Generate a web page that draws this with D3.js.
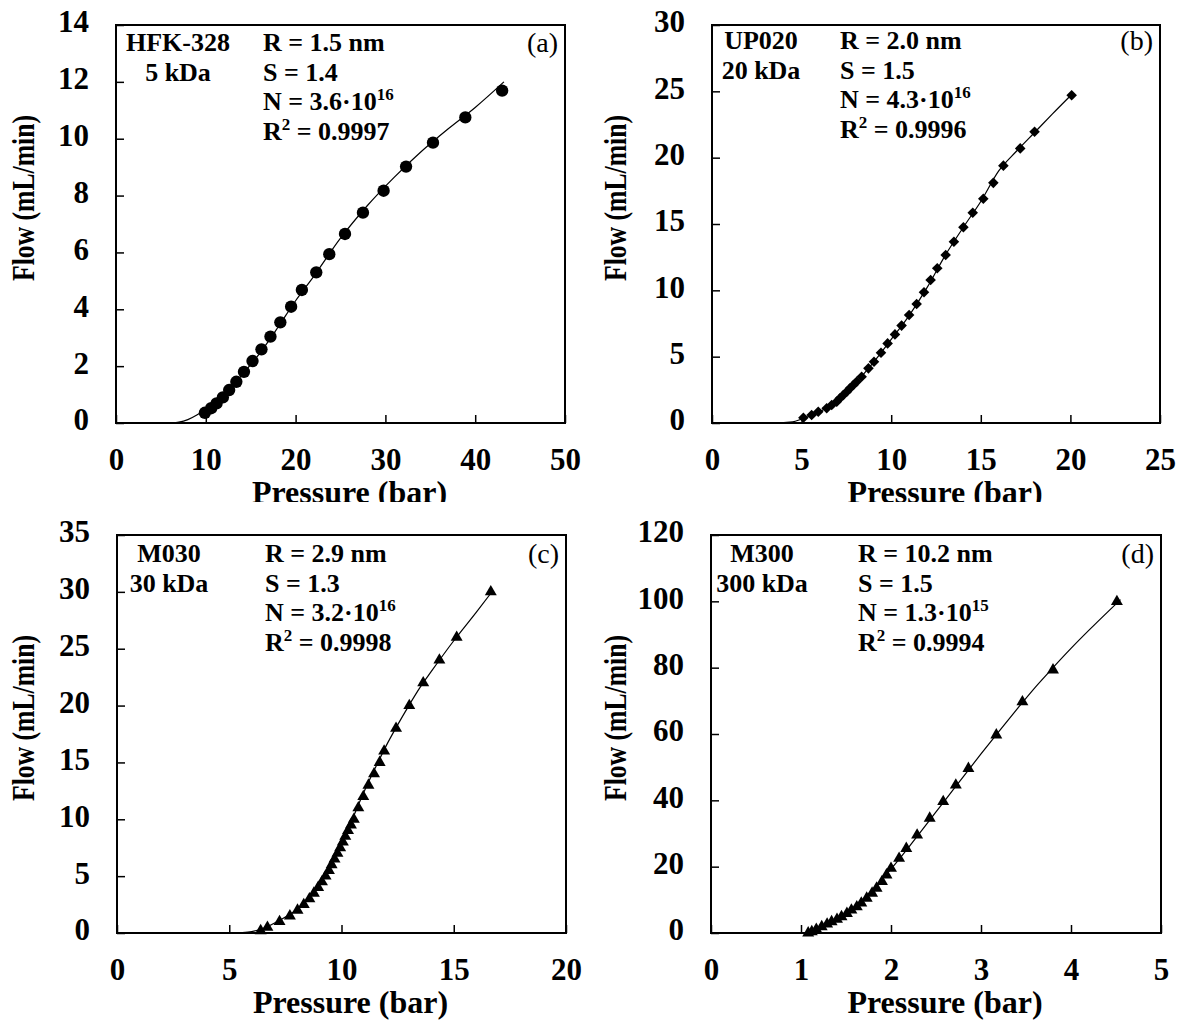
<!DOCTYPE html>
<html>
<head>
<meta charset="utf-8">
<script src="https://cdn.jsdelivr.net/npm/d3@7"></script>
<style>
body{margin:0;background:#fff;}
text{font-family:"Liberation Serif","Times New Roman",serif;fill:#000;}
</style>
</head>
<body>
<svg id="chart" width="1177" height="1023"></svg>
<script>
// (a) HFK-328 measured points + fitted model
var pressureA = [9.9,10.6,11.2,11.9,12.6,13.4,14.25,15.2,16.2,17.2,18.3,19.5,20.7,22.3,23.75,25.5,27.5,29.8,32.3,35.3,38.9,43.0];
var flowA = [0.36,0.52,0.69,0.90,1.16,1.45,1.80,2.18,2.59,3.04,3.54,4.09,4.68,5.30,5.94,6.65,7.40,8.17,9.02,9.86,10.75,11.69];
var fitPressureA = [0,6,7,8,9,10,11,12,13,14,16,18,20,22,25,28,31,34,37,40,43.2];
var fitFlowA = [0,0,0.03,0.12,0.28,0.5,0.75,1.02,1.32,1.68,2.45,3.35,4.3,5.15,6.5,7.65,8.65,9.55,10.35,11.1,12.0];

// (b) UP020
var pressureB = [5.1,5.56,5.93,6.4,6.68,6.96,7.14,7.33,7.52,7.7,7.89,8.07,8.35,8.73,9.04,9.43,9.8,10.21,10.58,11.0,11.42,11.83,12.2,12.57,13.04,13.5,14.03,14.55,15.14,15.7,16.26,17.2,18.0,20.07];
var flowB = [0.4,0.6,0.85,1.11,1.36,1.61,1.86,2.11,2.36,2.61,2.86,3.11,3.49,4.12,4.62,5.3,6.0,6.68,7.34,8.14,8.97,9.85,10.78,11.66,12.66,13.66,14.75,15.85,16.9,18.1,19.4,20.7,21.95,24.7];
var fitPressureB = [0,3.5,4.5,5,5.5,6,6.5,7,7.5,8,9,10,11,12,13,14,15,16,17,18,19,20.1];
var fitFlowB = [0,0,0.08,0.3,0.55,0.85,1.25,1.7,2.3,3.0,4.55,6.3,8.1,10.2,12.6,14.7,16.7,19.0,20.5,21.9,23.3,24.8];

// (c) M030
var pressureC = [6.4,6.7,7.24,7.7,8.04,8.32,8.57,8.77,8.96,9.13,9.29,9.44,9.56,9.69,9.82,9.94,10.06,10.17,10.29,10.42,10.55,10.75,10.97,11.2,11.45,11.7,11.9,12.43,13.02,13.64,14.36,15.13,16.65];
var flowC = [0.2,0.5,1,1.5,2,2.5,3,3.5,4,4.5,5,5.5,6,6.5,7,7.5,8,8.5,9,9.5,10,11,12,13,14,15,16,18,20,22,24,26,30];
var fitPressureC = [0,5,5.5,6,6.5,7,7.5,8,8.5,9,9.5,10,10.5,11,11.5,12,12.5,13,13.5,14,15,16,16.7];
var fitFlowC = [0,0,0.03,0.12,0.4,0.85,1.4,2.05,2.95,4.2,5.9,7.9,10.1,12.4,14.5,16.5,18.3,20.0,21.6,23.0,25.7,28.2,30.0];

// (d) M300
var pressureD = [1.08,1.12,1.17,1.23,1.29,1.34,1.40,1.45,1.51,1.56,1.62,1.67,1.73,1.79,1.84,1.90,1.95,2.0,2.09,2.17,2.29,2.43,2.58,2.72,2.86,3.17,3.46,3.80,4.51];
var flowD = [0,0.4,1.1,1.9,2.7,3.4,4.1,4.9,5.9,6.9,7.9,9,10.5,12,13.5,15.5,17.5,19.5,22.5,25.5,29.5,34.6,39.6,44.6,49.6,59.7,69.7,79.3,99.9];
var fitPressureD = [0,1.0,1.1,1.2,1.3,1.4,1.5,1.6,1.7,1.8,1.9,2.0,2.2,2.4,2.6,2.8,3.0,3.2,3.4,3.6,3.8,4.0,4.2,4.4,4.55];
var fitFlowD = [0,0,0.3,1.2,2.5,4.0,5.8,8.0,10.5,13.2,16.1,19.3,26.0,33.0,40.0,47.0,54.0,60.8,67.5,74.0,80.0,85.8,91.3,96.6,100.5];

// axis ticks
var xTicksA = [0,10,20,30,40,50];
var yTicksA = [0,2,4,6,8,10,12,14];
var xTicksB = [0,5,10,15,20,25];
var yTicksB = [0,5,10,15,20,25,30];
var xTicksC = [0,5,10,15,20];
var yTicksC = [0,5,10,15,20,25,30,35];
var xTicksD = [0,1,2,3,4,5];
var yTicksD = [0,20,40,60,80,100,120];

// annotation texts
var membraneNames = ["HFK-328","UP020","M030","M300"];
var cutoffs = ["5 kDa","20 kDa","30 kDa","300 kDa"];
var radii = ["1.5","2.0","2.9","10.2"];
var sValues = ["1.4","1.5","1.3","1.5"];
var nMantissa = ["3.6","4.3","3.2","1.3"];
var nExponent = ["16","16","16","15"];
var r2Values = ["0.9997","0.9996","0.9998","0.9994"];
var panelLetters = ["(a)","(b)","(c)","(d)"];

var svg = d3.select("#chart");

svg.append("defs").append("clipPath")
    .attr("id","topclip")
    .append("rect")
    .attr("x",0).attr("y",0)
    .attr("width",1177).attr("height",502);

var zip = function(xs,ys)
{
    return xs.map(function(x,i){ return {p:x,f:ys[i]}; });
}

var drawPanel = function(p)
{
    var x = d3.scaleLinear().domain([0,p.xTicks[p.xTicks.length-1]]).range([p.left,p.right]);
    var y = d3.scaleLinear().domain([0,p.yTicks[p.yTicks.length-1]]).range([p.bottom,p.top]);

    var g = svg.append("g");

    var xAxis = d3.axisBottom(x).tickValues(p.xTicks).tickFormat(d3.format("d"))
        .tickSize(-8).tickSizeOuter(0).tickPadding(25);
    var yAxis = d3.axisLeft(y).tickValues(p.yTicks).tickFormat(d3.format("d"))
        .tickSize(-8).tickSizeOuter(0).tickPadding(27);

    var gx = g.append("g")
        .attr("transform","translate(0,"+p.bottom+")")
        .call(xAxis);
    var gy = g.append("g")
        .attr("transform","translate("+p.left+",0)")
        .call(yAxis);

    [gx,gy].forEach(function(a)
    {
        a.select(".domain").remove();
        a.selectAll(".tick line").attr("stroke","#000").attr("stroke-width",1.5);
        a.selectAll(".tick text")
            .attr("font-family","'Liberation Serif','Times New Roman',serif")
            .attr("font-size",31)
            .attr("font-weight","bold")
            .attr("fill","#000");
    })
    gy.selectAll(".tick text").attr("y",-3);

    // fitted curve
    var line = d3.line()
        .x(function(d){ return x(d.p); })
        .y(function(d){ return y(d.f); })
        .curve(d3.curveMonotoneX);

    g.append("path")
        .datum(zip(p.fitP,p.fitF))
        .attr("d",line)
        .attr("fill","none")
        .attr("stroke","#000")
        .attr("stroke-width",1.2);

    // markers
    var sym = d3.symbol().type(p.symbol).size(p.size);
    g.selectAll(".pt")
        .data(zip(p.dataP,p.dataF))
        .enter()
        .append("path")
        .attr("class","pt")
        .attr("d",sym)
        .attr("fill","#000")
        .attr("transform",function(d)
        {
            return "translate("+x(d.p)+","+y(d.f)+")"+(p.rotate ? " rotate(45)" : "");
        });

    // frame
    g.append("rect")
        .attr("x",p.left).attr("y",p.top)
        .attr("width",p.right-p.left).attr("height",p.bottom-p.top)
        .attr("fill","none")
        .attr("stroke","#000")
        .attr("stroke-width",2);

    // axis titles
    var xl = g.append("text")
        .text("Pressure (bar)")
        .attr("x",(p.left+p.right)/2+9)
        .attr("y",p.bottom+80)
        .attr("text-anchor","middle")
        .attr("font-size",32)
        .attr("font-weight","bold");
    if(p.clip) xl.attr("clip-path","url(#topclip)");

    g.append("text")
        .text("Flow (mL/min)")
        .attr("transform","translate("+p.yLabelX+","+p.yLabelY+") rotate(-90)")
        .attr("text-anchor","middle")
        .attr("font-size",31)
        .attr("font-weight","bold")
        .attr("textLength",166)
        .attr("lengthAdjust","spacingAndGlyphs");

    // annotation block
    var i = p.index;
    var rows = [p.top+p.row0, p.top+p.row0+30, p.top+p.row0+59, p.top+p.row0+89];
    var c1 = p.left+p.col1;
    var c2 = p.left+p.col2;

    var ann = g.append("g")
        .attr("font-size",26)
        .attr("font-weight","bold");

    ann.append("text").text(membraneNames[i]).attr("x",c1).attr("y",rows[0]).attr("text-anchor","middle");
    ann.append("text").text(cutoffs[i]).attr("x",c1).attr("y",rows[1]).attr("text-anchor","middle");
    ann.append("text").text("R = "+radii[i]+" nm").attr("x",c2).attr("y",rows[0]);
    ann.append("text").text("S = "+sValues[i]).attr("x",c2).attr("y",rows[1]);

    var nt = ann.append("text").attr("x",c2).attr("y",rows[2]);
    nt.append("tspan").text("N = "+nMantissa[i]+"\u00b710");
    nt.append("tspan").text(nExponent[i]).attr("font-size",17).attr("dy",-10);

    var rt = ann.append("text").attr("x",c2).attr("y",rows[3]);
    rt.append("tspan").text("R");
    rt.append("tspan").text("2").attr("font-size",17).attr("dy",-10);
    rt.append("tspan").text(" = "+r2Values[i]).attr("dy",10);

    g.append("text")
        .text(panelLetters[i])
        .attr("x",p.right-7)
        .attr("y",p.top+p.row0+1)
        .attr("text-anchor","end")
        .attr("font-size",28);
}

var panels = [
    {index:0,left:116,top:25,right:565,bottom:423,xTicks:xTicksA,yTicks:yTicksA,
     dataP:pressureA,dataF:flowA,fitP:fitPressureA,fitF:fitFlowA,
     symbol:d3.symbolCircle,size:120,rotate:false,clip:true,
     yLabelX:34,yLabelY:198,col1:62,col2:147,row0:26},
    {index:1,left:712,top:25,right:1160,bottom:423,xTicks:xTicksB,yTicks:yTicksB,
     dataP:pressureB,dataF:flowB,fitP:fitPressureB,fitF:fitFlowB,
     symbol:d3.symbolSquare,size:56,rotate:true,clip:true,
     yLabelX:626,yLabelY:198,col1:49,col2:128,row0:24},
    {index:2,left:117,top:535,right:566,bottom:933,xTicks:xTicksC,yTicks:yTicksC,
     dataP:pressureC,dataF:flowC,fitP:fitPressureC,fitF:fitFlowC,
     symbol:d3.symbolTriangle,size:62,rotate:false,clip:false,
     yLabelX:34,yLabelY:718,col1:52,col2:148,row0:27},
    {index:3,left:711,top:535,right:1161,bottom:933,xTicks:xTicksD,yTicks:yTicksD,
     dataP:pressureD,dataF:flowD,fitP:fitPressureD,fitF:fitFlowD,
     symbol:d3.symbolTriangle,size:62,rotate:false,clip:false,
     yLabelX:626,yLabelY:718,col1:51,col2:147,row0:27}
];

panels.forEach(drawPanel);
</script>
</body>
</html>
